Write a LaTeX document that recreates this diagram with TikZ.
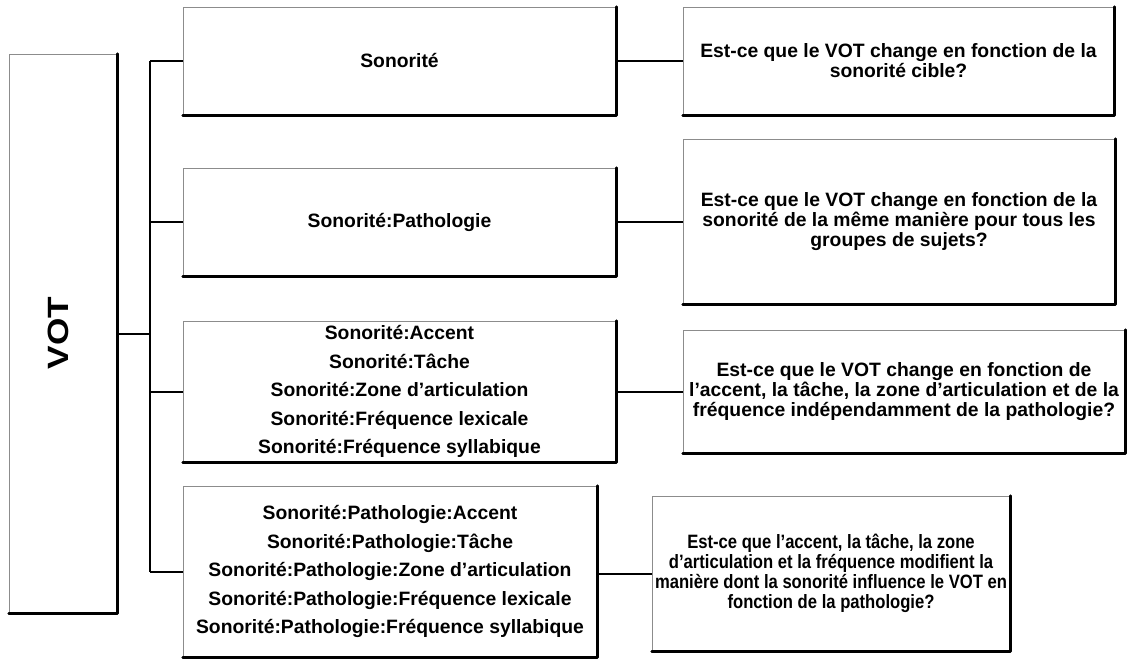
\documentclass[tikz,border=0pt]{standalone}
\usepackage{fontspec}
\setmainfont{Liberation Sans}
\newfontfamily\narrowfont[FakeStretch=0.86]{Liberation Sans}
\begin{document}
\begin{tikzpicture}[
  x=0.75pt, y=-0.75pt,
  box/.style 2 args={rectangle, draw=black!45, line width=0.5pt, fill=white,
    minimum width=#1*0.75pt, minimum height=#2*0.75pt, inner sep=0pt,
    align=center, font=\fontsize{14.5}{15}\selectfont\bfseries},
  shade/.style={line width=1.8pt, line cap=round, line join=round},
  link/.style={line width=1.5pt}
]
  \useasboundingbox (0,0) rectangle (1131,661);

  % main factor
  \node[box={108}{559}] (vot) at (63,333.5) {};
  \node[rotate=90, font=\fontsize{22}{26}\selectfont\bfseries] (votlabel) at (58,333) {\scalebox{1.2}[1]{VOT}};

  % model terms
  \node[box={433}{108}] (s1) at (399.5,61) {Sonorité};
  \node[box={433}{108}] (s2) at (399.5,222) {Sonorité:Pathologie};
  \node[box={433}{141}] (s3) at (399.5,391.5) {Sonorité:Accent\\[6.4pt]
    Sonorité:Tâche\\[6.4pt]
    Sonorité:Zone d’articulation\\[6.4pt]
    Sonorité:Fréquence lexicale\\[6.4pt]
    Sonorité:Fréquence syllabique};
  \node[box={414}{171}] (s4) at (390,571.5) {Sonorité:Pathologie:Accent\\[6.4pt]
    Sonorité:Pathologie:Tâche\\[6.4pt]
    Sonorité:Pathologie:Zone d’articulation\\[6.4pt]
    Sonorité:Pathologie:Fréquence lexicale\\[6.4pt]
    Sonorité:Pathologie:Fréquence syllabique};

  % research questions
  \node[box={431}{108}] (q1) at (898.5,61) {Est-ce que le VOT change en fonction de la\\
    sonorité cible?};
  \node[box={432}{165}] (q2) at (899,221.5) {Est-ce que le VOT change en fonction de la\\
    sonorité de la même manière pour tous les\\ groupes de sujets?};
  \node[box={442}{123}] (q3) at (904,391.5) {Est-ce que le VOT change en fonction de\\
    l’accent, la tâche, la zone d’articulation et de la\\
    fréquence indépendamment de la pathologie?};
  \node[box={358}{155}, font=\narrowfont\fontsize{14.5}{15}\selectfont\bfseries] (q4) at (831,573.5) {Est-ce que l’accent, la tâche, la zone\\
    d’articulation et la fréquence modifient la\\
    manière dont la sonorité influence le VOT en\\
    fonction de la pathologie?};

  % dark lower and right edges
  \foreach \n in {vot,s1,s2,s3,s4,q1,q2,q3,q4}
    \draw[shade] (\n.north east) -- (\n.south east) -- (\n.south west);

  % trunk
  \coordinate (ttop) at (150,61);
  \coordinate (tbot) at (150,572);
  \draw[link] (ttop) -- (tbot);
  \draw[link] (vot.east) -- (vot.east -| ttop);
  \foreach \n in {s1,s2,s3,s4}
    \draw[link] (\n.west -| ttop) -- (\n.west);

  % terms to questions
  \draw[link] (s1.east) -- (q1.west);
  \draw[link] (s2.east) -- (s2.east -| q2.west);
  \draw[link] (s3.east) -- (q3.west);
  \draw[link] (s4.east |- q4.west) -- (q4.west);
\end{tikzpicture}
\end{document}
